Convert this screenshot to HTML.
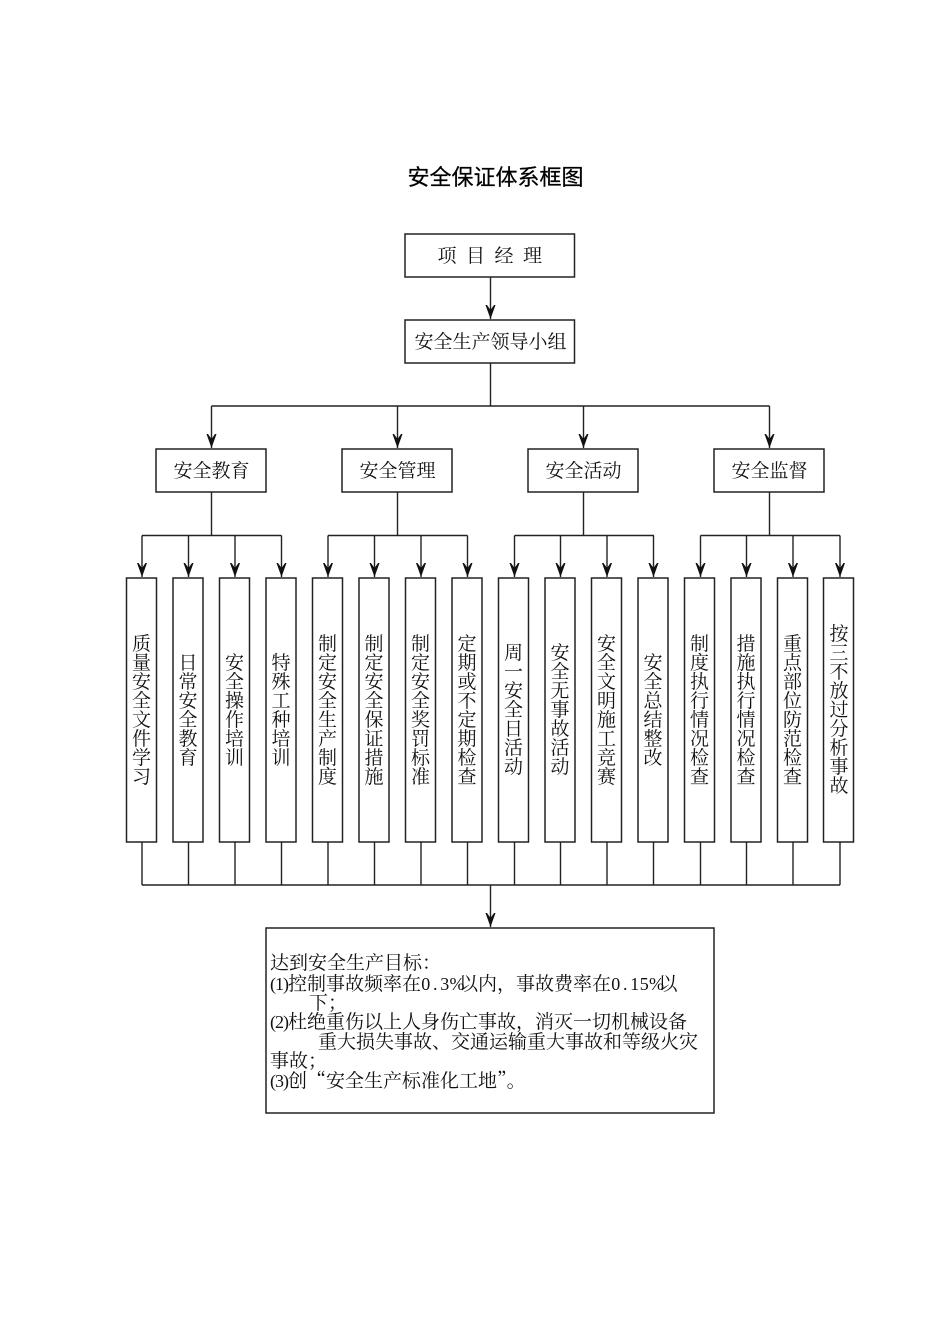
<!DOCTYPE html>
<html lang="zh"><head><meta charset="utf-8"><title>安全保证体系框图</title>
<style>
html,body{margin:0;padding:0;background:#fff}
#p{position:relative;width:950px;height:1344px;overflow:hidden;background:#fff;color:#111;font-family:"Liberation Serif","Noto Serif CJK SC",serif;font-size:19px}
svg{position:absolute;left:0;top:0}
.t,.l{position:absolute;white-space:pre;line-height:20px}
.l{left:270px}
.v{position:absolute;line-height:19px;width:19px;text-align:center;white-space:normal;word-break:break-all}
.c{display:inline-block;width:9.5px;text-align:center;font-family:"Liberation Serif",serif;font-size:18px}
.h{font-family:"Liberation Serif",serif;font-size:18px;letter-spacing:-1px}
.q{font-family:"Noto Serif CJK SC",serif}
</style></head><body><div id="p">
<svg width="950" height="1344" viewBox="0 0 950 1344">
<defs><path id="a" d="M0 0L-5 -14L-3.500 -14L0 -9L3.500 -14L5 -14Z" fill="#111"/></defs>
<g fill="#fff" stroke="#222" stroke-width="1.5">
<rect x="405" y="234" width="169.500" height="43"/>
<rect x="405" y="320" width="169.500" height="43"/>
<rect x="156" y="449" width="110" height="43"/>
<rect x="342" y="449" width="110" height="43"/>
<rect x="528" y="449" width="110" height="43"/>
<rect x="714" y="449" width="110" height="43"/>
<rect x="126.500" y="578" width="30" height="264"/>
<rect x="173" y="578" width="30" height="264"/>
<rect x="219.500" y="578" width="30" height="264"/>
<rect x="266" y="578" width="30" height="264"/>
<rect x="312.500" y="578" width="30" height="264"/>
<rect x="359" y="578" width="30" height="264"/>
<rect x="405.500" y="578" width="30" height="264"/>
<rect x="452" y="578" width="30" height="264"/>
<rect x="498.500" y="578" width="30" height="264"/>
<rect x="545" y="578" width="30" height="264"/>
<rect x="591.500" y="578" width="30" height="264"/>
<rect x="638" y="578" width="30" height="264"/>
<rect x="684.500" y="578" width="30" height="264"/>
<rect x="731" y="578" width="30" height="264"/>
<rect x="777.500" y="578" width="30" height="264"/>
<rect x="823.500" y="578" width="30" height="264"/>
<rect x="266" y="928" width="448" height="185"/>
</g>
<path fill="none" stroke="#222" stroke-width="1.4" d="M490.500 277V319M490.500 363V406M211.500 406H769.500M211.500 406V448M397.500 406V448M583.500 406V448M769.500 406V448
M211.500 492V535.500M397.500 492V535.500M583.500 492V535.500M769.500 492V535.500
M142 535.500H281.500M328 535.500H467.500M514.500 535.500H654M700.500 535.500H840
M142 535.500V577M188.500 535.500V577M235 535.500V577M281.500 535.500V577M328 535.500V577M374.500 535.500V577M421 535.500V577M467.500 535.500V577M514.500 535.500V577M560.500 535.500V577M607 535.500V577M653.500 535.500V577M700.500 535.500V577M746.500 535.500V577M793 535.500V577M840 535.500V577
M142 842V885M188.500 842V885M235 842V885M281.500 842V885M328 842V885M374.500 842V885M421 842V885M467.500 842V885M514.500 842V885M560.500 842V885M607 842V885M653.500 842V885M700.500 842V885M746.500 842V885M793 842V885M840 842V885M142 885H840M490.500 885V927"/>
<use href="#a" x="490.500" y="319"/>
<use href="#a" x="211.500" y="448"/><use href="#a" x="397.500" y="448"/><use href="#a" x="583.500" y="448"/><use href="#a" x="769.500" y="448"/>
<use href="#a" x="142" y="577"/><use href="#a" x="188.500" y="577"/><use href="#a" x="235" y="577"/><use href="#a" x="281.500" y="577"/>
<use href="#a" x="328" y="577"/><use href="#a" x="374.500" y="577"/><use href="#a" x="421" y="577"/><use href="#a" x="467.500" y="577"/>
<use href="#a" x="514.500" y="577"/><use href="#a" x="560.500" y="577"/><use href="#a" x="607" y="577"/><use href="#a" x="653.500" y="577"/>
<use href="#a" x="700.500" y="577"/><use href="#a" x="746.500" y="577"/><use href="#a" x="793" y="577"/><use href="#a" x="840" y="577"/>
<use href="#a" x="490.500" y="927"/>
</svg>

<div class="t" style="left:407.500px;top:165px;font:400 22px/26px 'Liberation Sans','Noto Sans CJK SC',sans-serif;color:#000;-webkit-text-stroke:.25px #000">安全保证体系框图</div>
<div class="t" style="left:437.500px;top:247px;letter-spacing:9.500px">项目经理</div>
<div class="t" style="left:414.500px;top:333px">安全生产领导小组</div>
<div class="t" style="left:173.500px;top:462px">安全教育</div>
<div class="t" style="left:359.500px;top:462px">安全管理</div>
<div class="t" style="left:545.500px;top:462px">安全活动</div>
<div class="t" style="left:731.500px;top:462px">安全监督</div>

<div class="v" style="left:132px;top:634.500px">质量安全文件学习</div>
<div class="v" style="left:178.500px;top:653.500px">日常安全教育</div>
<div class="v" style="left:225px;top:653.500px">安全操作培训</div>
<div class="v" style="left:271.500px;top:653.500px">特殊工种培训</div>
<div class="v" style="left:318px;top:634.500px">制定安全生产制度</div>
<div class="v" style="left:364.500px;top:634.500px">制定安全保证措施</div>
<div class="v" style="left:411px;top:634.500px">制定安全奖罚标准</div>
<div class="v" style="left:457.500px;top:634.500px">定期或不定期检查</div>
<div class="v" style="left:504px;top:644px">周一安全日活动</div>
<div class="v" style="left:550.500px;top:644px">安全无事故活动</div>
<div class="v" style="left:597px;top:634.500px">安全文明施工竞赛</div>
<div class="v" style="left:643.500px;top:653.500px">安全总结整改</div>
<div class="v" style="left:690px;top:634.500px">制度执行情况检查</div>
<div class="v" style="left:736.500px;top:634.500px">措施执行情况检查</div>
<div class="v" style="left:783px;top:634.500px">重点部位防范检查</div>
<div class="v" style="left:829.500px;top:625px">按三不放过分析事故</div>

<div class="l" style="top:954px">达到安全生产目标&#xFF1A;</div>
<div class="l" style="top:974px"><span class="h">(1)</span>控制事故频率在<span class="c">0</span><span class="c">.</span><span class="c">3</span><span class="c">%</span>以内&#xFF0C;事故费率在<span class="c">0</span><span class="c">.</span><span class="c">1</span><span class="c">5</span><span class="c">%</span>以</div>
<div class="l" style="top:994px;left:309px">下&#xFF1B;</div>
<div class="l" style="top:1012px"><span class="h">(2)</span>杜绝重伤以上人身伤亡事故&#xFF0C;消灭一切机械设备</div>
<div class="l" style="top:1033px;left:318px">重大损失事故、交通运输重大事故和等级火灾</div>
<div class="l" style="top:1052px">事故&#xFF1B;</div>
<div class="l" style="top:1070px"><span class="h">(3)</span>创<span class="q">“</span>安全生产标准化工地<span class="q">”</span>。</div>
</div></body></html>
